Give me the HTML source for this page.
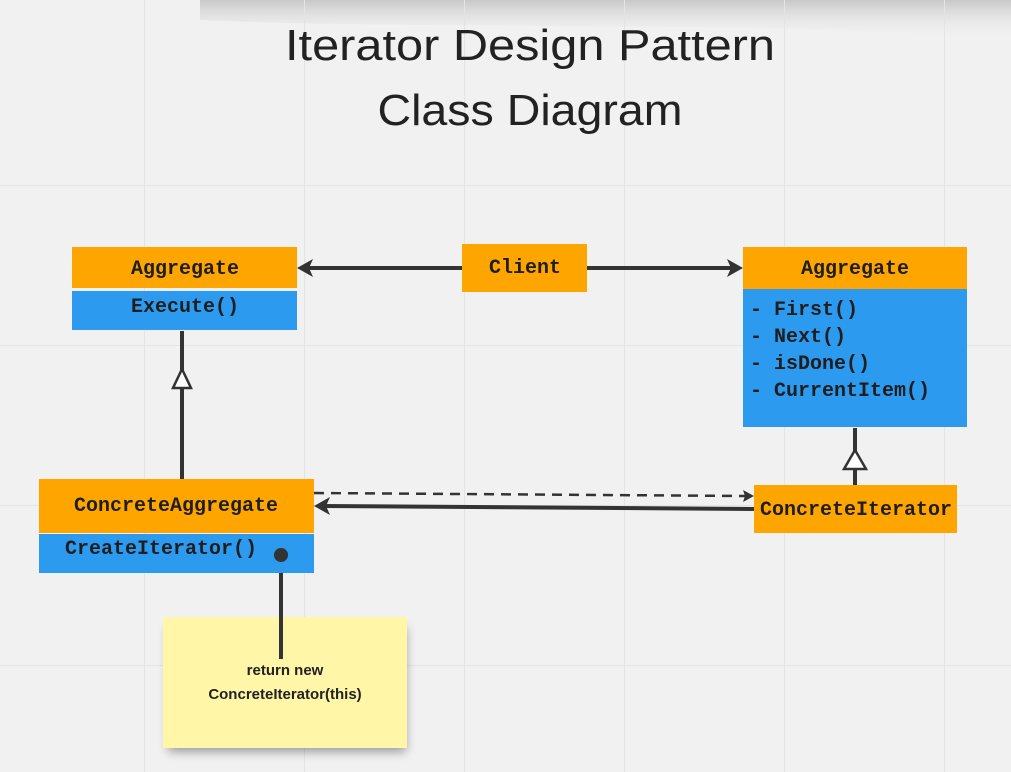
<!DOCTYPE html>
<html><head><meta charset="utf-8"><style>
html,body{margin:0;padding:0;width:1011px;height:772px;overflow:hidden;background:#f1f1f1}
</style></head><body>
<svg width="1011" height="772" xmlns="http://www.w3.org/2000/svg">
<defs>
<linearGradient id="top" x1="0" y1="0" x2="0" y2="1">
<stop offset="0" stop-color="#c8c8c8"/><stop offset="1" stop-color="#f1f1f1" stop-opacity="0"/>
</linearGradient>
<filter id="sh" x="-20%" y="-20%" width="140%" height="150%"><feGaussianBlur stdDeviation="5"/></filter>
</defs>
<rect x="0" y="0" width="1011" height="772" fill="#f1f1f1"/>
<path d="M200,0 L1011,0 L1011,40 C800,20 400,30 200,20 Z" fill="url(#top)"/>
<g stroke="#e4e4e4" stroke-width="1">
<line x1="144.5" y1="0" x2="144.5" y2="772"/><line x1="304.5" y1="0" x2="304.5" y2="772"/>
<line x1="464.5" y1="0" x2="464.5" y2="772"/><line x1="624.5" y1="0" x2="624.5" y2="772"/>
<line x1="784.5" y1="0" x2="784.5" y2="772"/><line x1="944.5" y1="0" x2="944.5" y2="772"/>
<line x1="0" y1="185.5" x2="1011" y2="185.5"/><line x1="0" y1="345.5" x2="1011" y2="345.5"/>
<line x1="0" y1="505.5" x2="1011" y2="505.5"/><line x1="0" y1="665.5" x2="1011" y2="665.5"/>
</g>
<g font-family="Liberation Sans, sans-serif" fill="#222" font-size="44" text-anchor="middle">
<text x="530" y="60" textLength="490" lengthAdjust="spacingAndGlyphs">Iterator Design Pattern</text>
<text x="530" y="125" textLength="305" lengthAdjust="spacingAndGlyphs">Class Diagram</text>
</g>
<!-- connectors -->
<g stroke="#333" stroke-width="4" fill="none">
<line x1="462" y1="268" x2="305" y2="268"/>
<line x1="587" y1="268" x2="735" y2="268"/>
<line x1="182" y1="331" x2="182" y2="479"/>
<line x1="855" y1="428" x2="855" y2="485"/>
<line x1="754" y1="509" x2="322" y2="506"/>
<line x1="281" y1="555" x2="281" y2="659"/>
</g>
<g fill="#333">
<path d="M297,268 L313,259 L309,268 L313,277 Z"/>
<path d="M743,268 L727,259 L731,268 L727,277 Z"/>
<path d="M314,506 L330,497 L326,506 L330,515 Z"/>
<path d="M754,496 L743,490 L745,496 L743,502 Z"/>
</g>
<line x1="314" y1="493" x2="746" y2="496" stroke="#333" stroke-width="2.5" stroke-dasharray="10,7"/>
<path d="M182,369 L191,388 L173,388 Z" fill="#fff" stroke="#333" stroke-width="2.5"/>
<path d="M855,450 L866,469 L844,469 Z" fill="#fff" stroke="#333" stroke-width="2.5"/>
<!-- boxes -->
<rect x="72" y="247" width="225" height="41" fill="#fea500"/>
<rect x="72" y="291" width="225" height="39" fill="#2c9aef"/>
<rect x="462" y="244" width="125" height="48" fill="#fea500"/>
<rect x="743" y="247" width="224" height="42" fill="#fea500"/>
<rect x="743" y="289" width="224" height="138" fill="#2c9aef"/>
<rect x="39" y="479" width="275" height="54" fill="#fea500"/>
<rect x="39" y="534" width="275" height="39" fill="#2c9aef"/>
<rect x="754" y="485" width="203" height="48" fill="#fea500"/>
<circle cx="281" cy="555" r="7" fill="#333"/>
<g font-family="Liberation Mono, monospace" font-weight="bold" font-size="20" fill="#1e1e1e">
<text x="185" y="274" text-anchor="middle">Aggregate</text>
<text x="185" y="312" text-anchor="middle">Execute()</text>
<text x="525" y="273" text-anchor="middle">Client</text>
<text x="855" y="274" text-anchor="middle">Aggregate</text>
<text x="750" y="315">- First()</text>
<text x="750" y="342">- Next()</text>
<text x="750" y="369">- isDone()</text>
<text x="750" y="396">- CurrentItem()</text>
<text x="176" y="511" text-anchor="middle">ConcreteAggregate</text>
<text x="65" y="554">CreateIterator()</text>
<text x="856" y="515" text-anchor="middle">ConcreteIterator</text>
</g>
<!-- sticky -->
<rect x="168" y="628" width="238" height="124" fill="#000" opacity="0.35" filter="url(#sh)"/>
<rect x="163" y="617" width="244" height="131" fill="#fff6a8"/>
<line x1="281" y1="600" x2="281" y2="659" stroke="#333" stroke-width="4"/>
<g font-family="Liberation Sans, sans-serif" font-weight="bold" font-size="15" fill="#222" text-anchor="middle">
<text x="285" y="675">return new</text>
<text x="285" y="699">ConcreteIterator(this)</text>
</g>
</svg>
</body></html>
